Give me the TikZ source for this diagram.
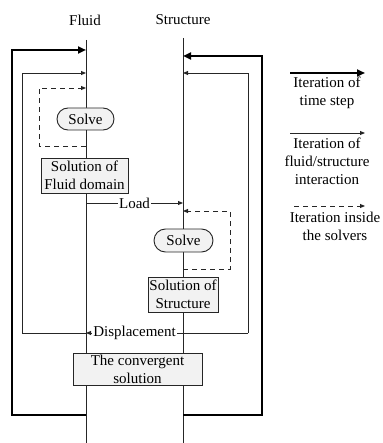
\documentclass[tikz,border=0pt]{standalone}
\usepackage{fontspec}
\setmainfont{Liberation Serif}
\usetikzlibrary{arrows.meta,shapes.misc}
\begin{document}
\begin{tikzpicture}[x=1pt,y=-1pt,
  font=\fontsize{15}{18}\selectfont,
  ln/.style={draw=black!85, line width=0.9pt},
  thk/.style={draw=black, line width=2pt},
  dsh/.style={draw=black!85, line width=0.9pt, dash pattern=on 5pt off 4pt},
  tip/.style={-{Triangle[length=5pt,width=4pt]}},
  bigtip/.style={-{Triangle[length=8pt,width=7pt]}},
  boxn/.style={draw=black!85, line width=0.9pt, fill=gray!10, align=center, inner sep=0pt},
  solven/.style={rounded rectangle, draw=black!85, line width=0.9pt, fill=gray!10, inner sep=0pt},
  lbl/.style={fill=white, inner sep=1pt},
  leg/.style={align=center}]
\useasboundingbox (0,0) rectangle (382,443);
% column labels
\node (fl) at (85,20) {Fluid};
\node (st) at (183,20) {Structure};
% vertical lines
\coordinate (ftop) at (86,40);
\coordinate (fbot) at (86,443);
\coordinate (stop) at (183,38);
\coordinate (sbot) at (183,443);
\draw[ln] (ftop) -- (fbot);
\draw[ln] (stop) -- (sbot);
% thick loops (time step)
\coordinate (tl1) at (86,415);
\coordinate (tl2) at (12,415);
\coordinate (tl3) at (12,50);
\coordinate (tl4) at (86,50);
\draw[thk,bigtip] (tl1) -- (tl2) -- (tl3) -- (tl4);
\coordinate (tr1) at (183,415);
\coordinate (tr2) at (262,415);
\coordinate (tr3) at (262,56);
\coordinate (tr4) at (183,56);
\draw[thk,bigtip] (tr1) -- (tr2) -- (tr3) -- (tr4);
% thin loops (FSI)
\coordinate (dR) at (248,333);
\coordinate (dS) at (183,333);
\coordinate (dF) at (86,333);
\coordinate (il2) at (22,333);
\coordinate (il3) at (22,73);
\coordinate (il4) at (86,73);
\coordinate (ir3) at (248,73);
\coordinate (ir4) at (183,73);
\draw[ln,tip] (dF) -- (il2) -- (il3) -- (il4);
\draw[ln,tip] (dR) -- (ir3) -- (ir4);
\draw[ln] (dR) -- (dS);
\draw[ln,tip] (dS) -- node[lbl] (disp) {Displacement} (dF);
% dashed loops (solvers)
\coordinate (dl1) at (86,146);
\coordinate (dl2) at (39,146);
\coordinate (dl3) at (39,88);
\coordinate (dl4) at (86,88);
\draw[dsh,tip] (dl1) -- (dl2) -- (dl3) -- (dl4);
\coordinate (dr1) at (183,269);
\coordinate (dr2) at (230,269);
\coordinate (dr3) at (230,211);
\coordinate (dr4) at (183,211);
\draw[dsh,tip] (dr1) -- (dr2) -- (dr3) -- (dr4);
% load
\coordinate (lF) at (86,203);
\coordinate (lS) at (183,203);
\draw[ln,tip] (lF) -- node[lbl] (load) {Load} (lS);
% nodes
\node[solven, minimum width=57pt, minimum height=22pt] (solvef) at (85.5,119) {Solve};
\node[boxn, minimum width=87pt, minimum height=35pt] (solf) at (84.5,175.5) {Solution of\\Fluid domain};
\node[solven, minimum width=59pt, minimum height=23pt] (solves) at (183.5,240.5) {Solve};
\node[boxn, minimum width=70pt, minimum height=35pt] (sols) at (183,294.5) {Solution of\\Structure};
\node[boxn, minimum width=129pt, minimum height=32pt] (conv) at (137.5,369) {The convergent\\solution};
% legend
\coordinate (g1a) at (290,73);
\coordinate (g1b) at (365,73);
\draw[thk,bigtip] (g1a) -- (g1b);
\node[leg] (g1t) at (327,93) {Iteration of\\time step};
\coordinate (g2a) at (290,133);
\coordinate (g2b) at (365,133);
\draw[ln,tip] (g2a) -- (g2b);
\node[leg] (g2t) at (327,161) {Iteration of\\fluid/structure\\interaction};
\coordinate (g3a) at (294,206);
\coordinate (g3b) at (365,206);
\draw[dsh,tip] (g3a) -- (g3b);
\node[leg] (g3t) at (335,226) {Iteration inside\\the solvers};
\end{tikzpicture}
\end{document}
